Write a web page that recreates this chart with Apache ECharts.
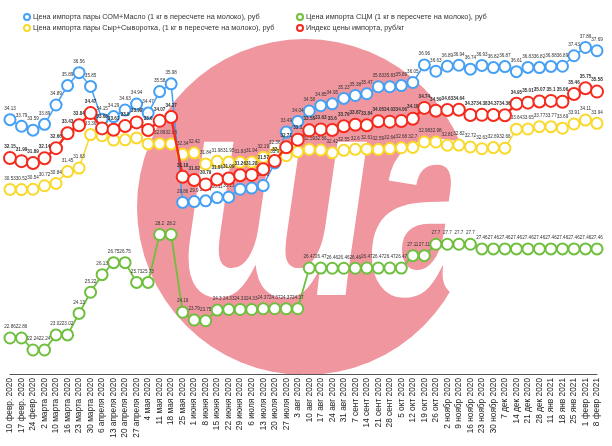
<!DOCTYPE html>
<html><head><meta charset="utf-8">
<script src="https://cdn.jsdelivr.net/npm/echarts@6/dist/echarts.min.js"></script>
<style>html,body{margin:0;padding:0;background:#fff}#c{width:612px;height:446px}</style>
</head><body><div id="c"></div>
<script>
const categories = ['10 февр. 2020','17 февр. 2020','24 февр 2020','2 марта 2020','10 марта 2020','16 марта 2020','23 марта 2020','30 марта 2020','6 апреля 2020','13 апреля 2020','20 апреля 2020','27 апреля 2020','4 мая 2020','11 мая 2020','18 мая 2020','25 мая 2020','1 июня 2020','8 июня 2020','15 июня 2020','22 июня 2020','29 июня 2020','6 июля 2020','13 июля 2020','20 июля 2020','27 июля 2020','3 авг 2020','10 авг 2020','17 авг 2020','24 авг 2020','31 авг 2020','7 сент 2020','14 сент 2020','21 сент 2020','28 сент 2020','5 окт 2020','12 окт 2020','19 окт 2020','26 окт 2020','2 ноябр 2020','9 ноябр 2020','16 ноябр 2020','23 ноябр 2020','30 ноябр 2020','7 дек 2020','14 дек 2020','21 дек 2020','28 дек 2020','11 янв 2021','18 янв 2021','25 янв 2021','1 февр 2021','8 февр 2021'];
const somMaslo = [34.13,33.79,33.59,33.89,34.89,35.89,36.56,35.85,34.15,34.29,34.63,34.94,34.47,35.58,35.98,29.86,29.9,29.94,30.11,30.13,30.54,30.6,30.73,31.9,33.49,34.04,34.58,34.85,34.95,35.23,35.38,35.47,35.83,35.83,35.89,36.05,36.96,36.63,36.89,36.94,36.74,36.93,36.82,36.87,36.61,36.83,36.82,36.88,36.89,37.43,37.86,37.69];
const syrSyvorotka = [30.53,30.52,30.54,30.72,30.84,31.45,31.63,33.36,33.3,33.08,33.09,33.19,32.88,32.89,32.88,32.34,32.42,31.84,31.98,31.95,31.93,31.94,32.19,32.36,32.27,32.48,32.59,32.56,32.42,32.55,32.6,32.61,32.59,32.64,32.68,32.7,32.98,32.98,32.81,32.82,32.72,32.63,32.69,32.66,33.64,33.65,33.77,33.77,33.69,33.91,34.11,33.94];
const scm = [22.86,22.86,22.24,22.24,23.02,23.02,24.13,25.22,26.13,26.75,26.75,25.73,25.73,28.2,28.2,24.19,23.79,23.75,24.3,24.33,24.33,24.33,24.37,24.37,24.37,24.37,26.47,26.47,26.46,26.46,26.46,26.47,26.47,26.47,26.47,27.11,27.11,27.7,27.7,27.7,27.7,27.46,27.46,27.46,27.46,27.46,27.46,27.46,27.46,27.46,27.46,27.46];
const importIndex = [32.15,31.99,31.89,32.14,32.66,33.43,33.84,34.47,33.68,33.61,33.8,33.99,33.6,34.07,34.27,31.18,31.02,30.79,31.04,31.09,31.26,31.28,31.57,32.0,32.71,33.1,33.58,33.63,33.6,33.79,33.87,33.84,34.05,34.03,34.06,34.18,34.74,34.59,34.63,34.64,34.37,34.38,34.37,34.36,34.95,35.01,35.07,35.1,35.06,35.46,35.75,35.58];
const names = ['Цена импорта пары СОМ+Масло (1 кг в пересчете на молоко), руб','Цена импорта пары Сыр+Сыворотка, (1 кг в пересчете на молоко), руб','Цена импорта СЦМ (1 кг в пересчете на молоко), руб','Индекс цены импорта, руб/кг'];

function mk(name, data, color, size, border, lineW, bold, z) {
  return {
    name: name, type: 'line', data: data, z: z,
    symbol: 'emptyCircle', symbolSize: size,
    lineStyle: {color: color, width: lineW},
    itemStyle: {color: color, borderColor: color, borderWidth: border},
    label: {show: true, position: 'top', distance: 2, fontSize: 4.6, color: '#333',
      fontWeight: bold ? 'bold' : 'normal', fontFamily: 'Liberation Sans'},
    emphasis: {disabled: true}
  };
}
const chart = echarts.init(document.getElementById('c'), null, {renderer: 'canvas'});
const legendBase = {orient: 'vertical', itemWidth: 6, itemHeight: 6, itemGap: 3, icon: 'emptyCircle',
  textStyle: {fontSize: 7.3, color: '#333', fontFamily: 'Liberation Sans', padding: [0,0,0,-2]}};
chart.setOption({
  animation: false,
  backgroundColor: '#fff',
  grid: {left: 10, right: 15, top: 6, bottom: 72, containLabel: false},
  legend: [
    Object.assign({}, legendBase, {data: [names[0], names[1]], left: 18, top: 8}),
    Object.assign({}, legendBase, {data: [names[2], names[3]], left: 291, top: 8})
  ],
  graphic: [
    {type: 'circle', shape: {cx: 305, cy: 207, r: 168}, style: {fill: '#f0969f'}, z: 0, silent: true},
    {type: 'text', x: 335, y: 215, scaleY: 1.35, z: 0, silent: true,
     style: {text: 'ша', fill: '#fff', font: 'italic bold 215px "Liberation Sans"', textAlign: 'center', textVerticalAlign: 'middle'}}
  ],
  xAxis: {type: 'category', data: categories, boundaryGap: false,
    axisLine: {lineStyle: {color: '#555', width: 1}}, axisTick: {show: false},
    axisLabel: {rotate: 90, interval: 0, fontSize: 8.3, color: '#222', margin: 4, fontFamily: 'Liberation Sans'},
    splitLine: {show: false}},
  yAxis: {type: 'value', min: 21, max: 40, show: false, splitLine: {show: false}},
  series: [
    mk(names[0], somMaslo, '#45a0f5', 11, 2, 1.5, false, 3),
    mk(names[1], syrSyvorotka, '#f9d92c', 11, 2, 1.5, false, 3),
    mk(names[2], scm, '#6fbf3e', 11, 2, 1.8, false, 3),
    mk(names[3], importIndex, '#f42a1c', 12, 3.2, 2.5, true, 4)
  ]
});
</script></body></html>
